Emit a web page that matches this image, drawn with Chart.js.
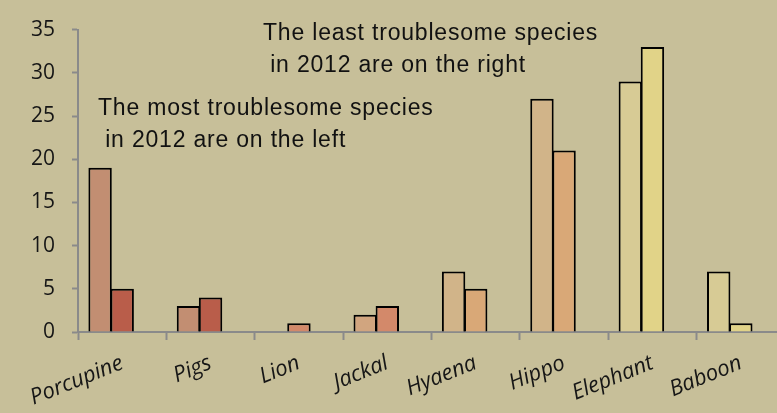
<!DOCTYPE html>
<html>
<head>
<meta charset="utf-8">
<script src="https://cdn.jsdelivr.net/npm/chart.js@4/dist/chart.umd.min.js"></script>
<style>
  html, body { margin: 0; padding: 0; overflow: hidden; background: #c7bf99; }
  canvas { display: block; }
</style>
</head>
<body>
<canvas id="c" width="785" height="413"></canvas>
<script>
const categories = ['Porcupine', 'Pigs', 'Lion', 'Jackal', 'Hyaena', 'Hippo', 'Elephant', 'Baboon'];
const seriesA = [19, 3, null, 2, 7, 27, 29, 7];
const seriesB = [5, 4, 1, 3, 5, 21, 33, 1];
const spacer = [null, null, null, null, null, null, null, null];
const yTicks = [0, 5, 10, 15, 20, 25, 30, 35];
const colorsA = ['#c28e72', '#c28e72', '#d3896a', '#d1a57f', '#d1b489', '#d1b489', '#d7cb95', '#d7cb95'];
const colorsB = ['#b95d4a', '#b95d4a', '#d3896a', '#d3896a', '#d9a877', '#d9a877', '#e1d388', '#e1d388'];
const notes = [
  { lines: ['The least troublesome species', ' in 2012 are on the right'], x: 263, y: 39.5 },
  { lines: ['The most troublesome species', ' in 2012 are on the left'], x: 98, y: 114.5 }
];

const AXIS = '#8a8a8a';

const bgPlugin = {
  id: 'bg',
  beforeDraw(chart) {
    const ctx = chart.ctx;
    ctx.save();
    ctx.fillStyle = '#c7bf99';
    ctx.fillRect(0, 0, chart.width, chart.height);
    ctx.restore();
  }
};

const notePlugin = {
  id: 'notes',
  afterDraw(chart) {
    const ctx = chart.ctx;
    ctx.save();
    ctx.font = '23px "Liberation Sans", Arial, sans-serif';
    ctx.fillStyle = '#111111';
    ctx.textBaseline = 'alphabetic';
    ctx.textAlign = 'left';
    try { ctx.letterSpacing = '0.8px'; } catch (e) {}
    notes.forEach(n => {
      n.lines.forEach((t, i) => ctx.fillText(t, n.x, n.y + i * 32.5));
    });
    ctx.restore();
  }
};

new Chart(document.getElementById('c'), {
  type: 'bar',
  data: {
    labels: categories,
    datasets: [
      { label: 'A', data: seriesA, backgroundColor: colorsA, borderColor: '#000', borderWidth: 2, borderSkipped: 'bottom' },
      { label: 'B', data: seriesB, backgroundColor: colorsB, borderColor: '#000', borderWidth: 2, borderSkipped: 'bottom' },
      { label: '', data: spacer, backgroundColor: 'transparent' }
    ]
  },
  options: {
    responsive: false,
    animation: false,
    devicePixelRatio: 1,
    layout: { padding: { top: 25, left: 0, right: 0, bottom: 0 } },
    datasets: { bar: { categoryPercentage: 0.75, barPercentage: 1.06 } },
    plugins: { legend: { display: false }, tooltip: { enabled: false } },
    scales: {
      x: {
        grid: { offset: true, drawOnChartArea: false, drawTicks: true, tickLength: 8, tickWidth: 2, tickColor: AXIS },
        border: { color: AXIS, width: 2 },
        ticks: {
          autoSkip: false, maxRotation: 22, minRotation: 22, padding: 10,
          color: '#161616',
          font: { family: '"Open Sans", "Noto Sans", sans-serif', size: 22, style: 'italic' }
        },
        afterFit(s) { s.height = 81; }
      },
      y: {
        min: 0, max: 35,
        afterBuildTicks(s) { s.ticks = yTicks.map(v => ({ value: v })); },
        grid: { drawOnChartArea: false, drawTicks: true, tickLength: 6, tickWidth: 2, tickColor: AXIS },
        border: { color: AXIS, width: 2 },
        ticks: {
          padding: 17,
          color: '#161616',
          font: { family: '"Open Sans", "Noto Sans", sans-serif', size: 21 }
        },
        afterFit(s) { s.width = 78; }
      }
    }
  },
  plugins: [bgPlugin, notePlugin]
});
</script>
</body>
</html>
